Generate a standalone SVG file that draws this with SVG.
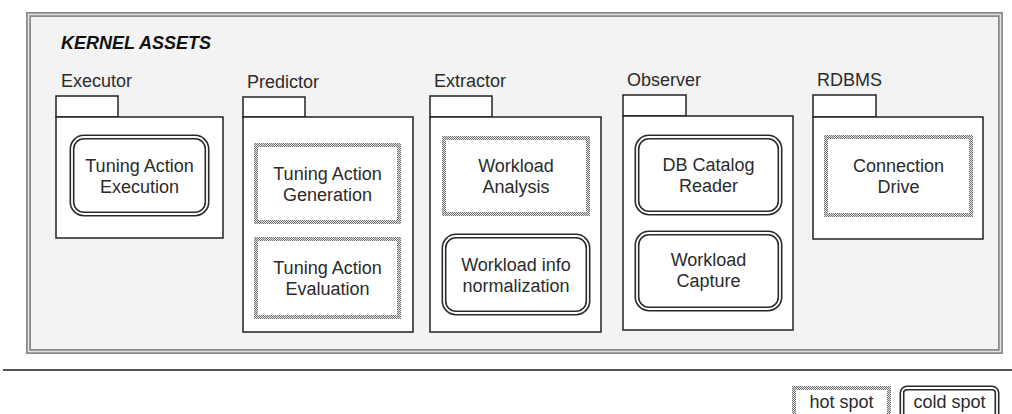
<svg xmlns="http://www.w3.org/2000/svg" width="1012" height="414" viewBox="0 0 1012 414">
<defs>
<pattern id="dots" patternUnits="userSpaceOnUse" width="2" height="2">
<rect width="2" height="2" fill="#e8e8e8"/>
<rect width="1" height="1" fill="#6e6e6e"/>
<rect x="1" y="1" width="1" height="1" fill="#6e6e6e"/>
</pattern>
</defs>
<style>
text{font-family:"Liberation Sans",Arial,sans-serif;font-size:18px;fill:#2b2b2b}
.title{font-weight:bold;font-style:italic;fill:#111}
.c{text-anchor:middle}
.pk{fill:#fff;stroke:#222;stroke-width:1.5}
.hot{fill:#fff;stroke:url(#dots);stroke-width:4}
.coldo{fill:#fff;stroke:#2a2a2a;stroke-width:5}
.coldi{fill:none;stroke:#fff;stroke-width:1.8}
</style>
<rect width="1012" height="414" fill="#fff"/>
<g id="kernel-assets">
<rect x="28.5" y="14.5" width="972" height="337" fill="#f3f3f3" stroke="#8a8a8a" stroke-width="5"/>
<rect x="28.5" y="14.5" width="972" height="337" fill="none" stroke="#e2e2e2" stroke-width="1.5"/>
<text class="title" x="61" y="49">KERNEL ASSETS</text>
</g>
<g id="executor">
<text x="61" y="87">Executor</text>
<rect class="pk" x="56" y="96" width="62" height="21"/>
<rect class="pk" x="56" y="117" width="167" height="121"/>
</g>
<g id="tuning-action-execution">
<rect class="coldo" x="72" y="137" width="135" height="77" rx="12"/>
<rect class="coldi" x="72" y="137" width="135" height="77" rx="12"/>
<text class="c" x="139.5" y="172">Tuning Action</text>
<text class="c" x="139.5" y="193">Execution</text>
</g>
<g id="predictor">
<text x="247" y="88">Predictor</text>
<rect class="pk" x="243" y="97" width="62" height="20"/>
<rect class="pk" x="243" y="117" width="170" height="215"/>
</g>
<g id="tuning-action-generation">
<rect class="hot" x="256" y="145" width="143" height="77"/>
<text class="c" x="327.5" y="180">Tuning Action</text>
<text class="c" x="327.5" y="201">Generation</text>
</g>
<g id="tuning-action-evaluation">
<rect class="hot" x="256" y="239" width="143" height="78"/>
<text class="c" x="327.5" y="274">Tuning Action</text>
<text class="c" x="327.5" y="295">Evaluation</text>
</g>
<g id="extractor">
<text x="434" y="87">Extractor</text>
<rect class="pk" x="430" y="96" width="62" height="21"/>
<rect class="pk" x="430" y="117" width="171" height="215"/>
</g>
<g id="workload-analysis">
<rect class="hot" x="444" y="138" width="144" height="76"/>
<text class="c" x="516" y="172">Workload</text>
<text class="c" x="516" y="193">Analysis</text>
</g>
<g id="workload-info-normalization">
<rect class="coldo" x="444" y="236" width="144" height="77" rx="12"/>
<rect class="coldi" x="444" y="236" width="144" height="77" rx="12"/>
<text class="c" x="516" y="271">Workload info</text>
<text class="c" x="516" y="292">normalization</text>
</g>
<g id="observer">
<text x="627" y="86">Observer</text>
<rect class="pk" x="623" y="95" width="63" height="21"/>
<rect class="pk" x="623" y="116" width="170" height="214"/>
</g>
<g id="db-catalog-reader">
<rect class="coldo" x="637" y="137" width="143" height="76" rx="12"/>
<rect class="coldi" x="637" y="137" width="143" height="76" rx="12"/>
<text class="c" x="708.5" y="171">DB Catalog</text>
<text class="c" x="708.5" y="192">Reader</text>
</g>
<g id="workload-capture">
<rect class="coldo" x="637" y="233" width="143" height="76" rx="12"/>
<rect class="coldi" x="637" y="233" width="143" height="76" rx="12"/>
<text class="c" x="708.5" y="266">Workload</text>
<text class="c" x="708.5" y="287">Capture</text>
</g>
<g id="rdbms">
<text x="817" y="86">RDBMS</text>
<rect class="pk" x="813" y="95" width="63" height="22"/>
<rect class="pk" x="813" y="117" width="170" height="122"/>
</g>
<g id="connection-drive">
<rect class="hot" x="826" y="137" width="145" height="78"/>
<text class="c" x="898.5" y="172">Connection</text>
<text class="c" x="898.5" y="193">Drive</text>
</g>
<g id="separator">
<line x1="3" y1="370" x2="1012" y2="370" stroke="#555" stroke-width="2"/>
</g>
<g id="legend-hot-spot">
<rect class="hot" x="794" y="388" width="95" height="34"/>
<text class="c" x="841.5" y="408">hot spot</text>
</g>
<g id="legend-cold-spot">
<rect class="coldo" x="902" y="388" width="95" height="34" rx="5"/>
<rect class="coldi" x="902" y="388" width="95" height="34" rx="5"/>
<text class="c" x="949.5" y="408">cold spot</text>
</g>
<g id="connectors"></g>
</svg>
